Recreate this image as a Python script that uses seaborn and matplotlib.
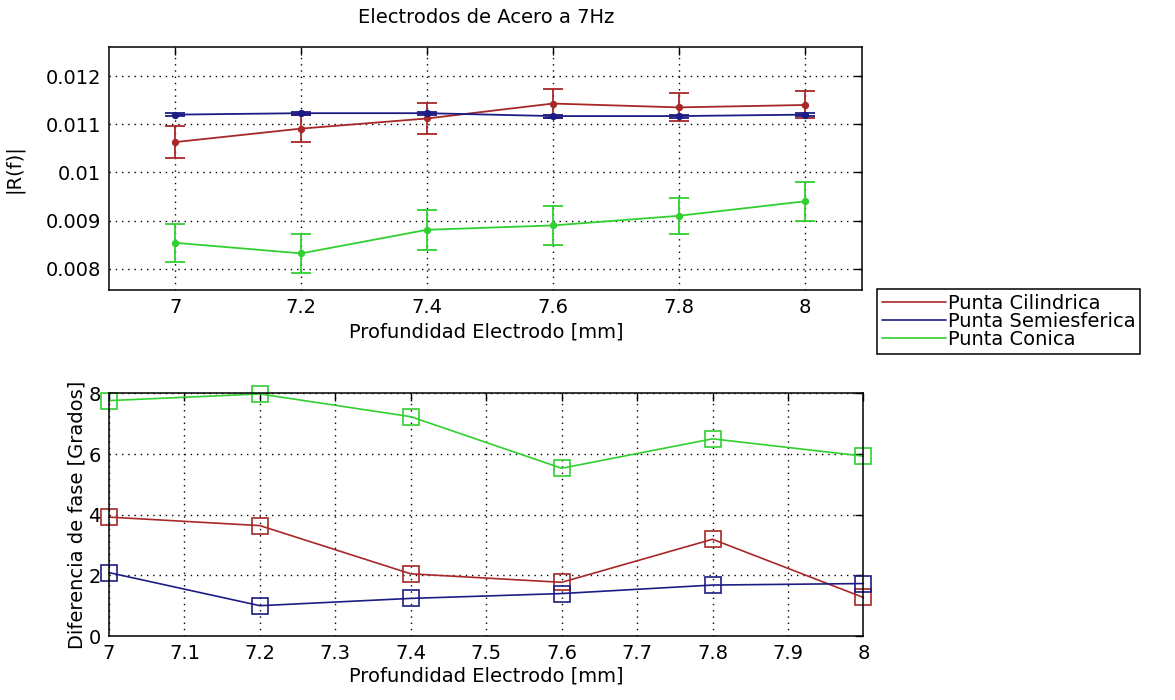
import matplotlib
matplotlib.use("Agg")
import matplotlib.pyplot as plt
from matplotlib.lines import Line2D
import seaborn as sns
import pandas as pd

# Data
depth = [7.0, 7.2, 7.4, 7.6, 7.8, 8.0]
series = ["Punta Cilindrica", "Punta Semiesferica", "Punta Conica"]

r_cil = [0.01063, 0.01091, 0.01112, 0.01143, 0.01135, 0.01140]
r_cil_err = [0.00033, 0.00028, 0.00032, 0.00030, 0.00029, 0.00028]
r_sem = [0.01120, 0.01123, 0.01123, 0.01117, 0.01117, 0.01120]
r_sem_err = [0.00003, 0.00003, 0.00003, 0.00003, 0.00003, 0.00003]
r_con = [0.00854, 0.00832, 0.00881, 0.00890, 0.00910, 0.00940]
r_con_err = [0.00039, 0.00040, 0.00041, 0.00040, 0.00037, 0.00040]

fase_cil = [3.92, 3.64, 2.05, 1.77, 3.19, 1.27]
fase_sem = [2.09, 1.00, 1.24, 1.40, 1.68, 1.73]
fase_con = [7.76, 7.98, 7.23, 5.53, 6.50, 5.93]

colors = ["#a82828", "#1c1c84", "#30d030"]

sns.set_theme(style="white")
plt.rcParams['font.family'] = ['DejaVu Sans']
plt.rcParams['font.size'] = 14
plt.rcParams['text.color'] = 'black'
plt.rcParams['axes.labelcolor'] = 'black'

fig = plt.figure(figsize=(11.75, 7), dpi=100)
ax1 = fig.add_axes([0.093, 0.5857, 0.641, 0.3476])
ax2 = fig.add_axes([0.0928, 0.0914, 0.642, 0.3467])

# top: |R(f)| with error bars
top_vals = [r_cil, r_sem, r_con]
top_errs = [r_cil_err, r_sem_err, r_con_err]
for name, vals, errs, c in zip(series, top_vals, top_errs, colors):
    df = pd.DataFrame({"x": depth, "y": vals})
    sns.lineplot(data=df, x="x", y="y", ax=ax1, color=c, lw=1.3,
                 marker="o", ms=4.5, mec=c, mfc=c, zorder=3)
    ax1.errorbar(depth, vals, yerr=errs, fmt="none", ecolor=c,
                 elinewidth=1.3, capsize=7, capthick=1.3, zorder=3)

# bottom: phase difference
bottom_vals = [fase_cil, fase_sem, fase_con]
for name, vals, c in zip(series, bottom_vals, colors):
    df = pd.DataFrame({"x": depth, "y": vals})
    sns.lineplot(data=df, x="x", y="y", ax=ax2, color=c, lw=1.2,
                 marker="s", ms=11, mfc="none", mec=c, mew=1.2, zorder=3,
                 clip_on=False)

ax1.set_xlim(6.895, 8.092)
ax1.set_ylim(0.00756, 0.01261)
ax1.set_xticks(depth)
ax1.set_xticklabels(["7", "7.2", "7.4", "7.6", "7.8", "8"])
ax1.set_yticks([0.008, 0.009, 0.010, 0.011, 0.012])
ax1.set_yticklabels(["0.008", "0.009", "0.01", "0.011", "0.012"])
ax1.set_xlabel("Profundidad Electrodo [mm]", fontsize=14, labelpad=4)
ax1.set_ylabel("|R(f)|", fontsize=14, labelpad=16)
ax1.set_title("Electrodos de Acero a 7Hz", pad=17, fontsize=14)

xt2 = [7.0, 7.1, 7.2, 7.3, 7.4, 7.5, 7.6, 7.7, 7.8, 7.9, 8.0]
ax2.set_xlim(7, 8)
ax2.set_ylim(0, 8)
ax2.set_xticks(xt2)
ax2.set_xticklabels(["7", "7.1", "7.2", "7.3", "7.4", "7.5", "7.6", "7.7", "7.8", "7.9", "8"])
ax2.set_yticks([0, 2, 4, 6, 8])
ax2.set_xlabel("Profundidad Electrodo [mm]", fontsize=14, labelpad=2)
ax2.set_ylabel("Diferencia de fase [Grados]", fontsize=14, labelpad=1)

for ax in (ax1, ax2):
    ax.grid(True, color="black", ls=(0, (1, 3.5)), lw=1.0)
    ax.tick_params(direction="in", length=6, width=1, top=True, right=True,
                   labelsize=14, colors="black", pad=6)
    for s in ax.spines.values():
        s.set_color("black")
        s.set_linewidth(1.1)
        s.set_zorder(4)

handles = [Line2D([], [], color=c, lw=1.2) for c in colors]
leg = fig.legend(handles, series, loc="upper left",
                 bbox_to_anchor=(877 / 1175, 1 - 289 / 700), borderaxespad=0,
                 fancybox=False, edgecolor="black", framealpha=1,
                 handlelength=3.3, handletextpad=0.1, labelspacing=-0.05,
                 borderpad=0.25, fontsize=14)
leg.get_frame().set_linewidth(1.1)

fig.savefig("out.png", dpi=100)
